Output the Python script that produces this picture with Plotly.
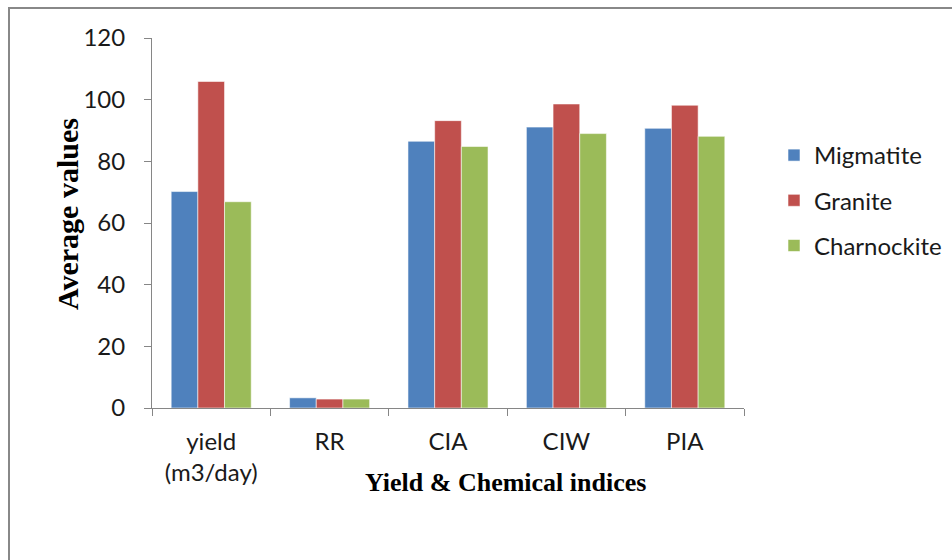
import plotly.graph_objects as go

# Categories and average values per rock type
categories = ["yield<br>(m3/day)", "RR", "CIA", "CIW", "PIA"]
migmatite = [70.2, 3.3, 86.5, 91.1, 90.7]
granite = [105.9, 2.9, 93.2, 98.6, 98.2]
charnockite = [66.9, 2.9, 84.8, 89.0, 88.1]

series = [
    ("Migmatite", migmatite, "#4F81BD"),
    ("Granite", granite, "#C0504D"),
    ("Charnockite", charnockite, "#9BBB59"),
]

W, H = 952, 560
L, R, T, B = 152, 208, 38, 152
pw, ph = W - L - R, H - T - B

def px_x(x):
    return (x - L) / pw

def px_y(y):
    return (H - B - y) / ph

fig = go.Figure()
for i, (name, vals, color) in enumerate(series):
    fig.add_trace(go.Bar(
        x=categories, y=vals, name=name, legendgroup=f"g{i}",
        marker=dict(color=color, line=dict(color="rgba(255,255,255,0.55)", width=1)),
    ))

tick_font = dict(family="Lato, sans-serif", size=24, color="#1a1a1a")
axis_col = "#868686"
serif = "Liberation Serif, Times New Roman, serif"

fig.update_layout(
    width=W, height=H,
    margin=dict(l=L, r=R, t=T, b=B, pad=0, autoexpand=False),
    paper_bgcolor="white", plot_bgcolor="white",
    barmode="group", bargap=0.324, bargroupgap=0,
    showlegend=True,
    legend=dict(
        xref="container", yref="container",
        x=774 / W, y=1 - 133 / H, xanchor="left", yanchor="top",
        font=tick_font, tracegroupgap=11, traceorder="grouped",
        bgcolor="rgba(0,0,0,0)",
    ),
    xaxis=dict(
        type="category", showline=True, linecolor=axis_col, linewidth=1,
        ticks="outside", ticklen=7, tickcolor=axis_col, tickson="boundaries",
        tickfont=tick_font, ticklabelstandoff=12, showgrid=False, zeroline=False,
    ),
    yaxis=dict(
        range=[0, 120], tickvals=[0, 20, 40, 60, 80, 100, 120],
        showline=True, linecolor=axis_col, linewidth=1,
        ticks="outside", ticklen=7, tickcolor=axis_col,
        tickfont=tick_font, ticklabelstandoff=14, showgrid=False, zeroline=False,
    ),
    annotations=[
        dict(text="<b>Average values</b>", textangle=-90, xref="paper", yref="paper",
             x=px_x(67), y=px_y(214), xanchor="center", yanchor="middle", showarrow=False,
             font=dict(family=serif, size=30, color="black")),
        dict(text="<b>Yield &amp; Chemical indices</b>", xref="paper", yref="paper",
             x=px_x(505), y=px_y(482), xanchor="center", yanchor="middle", showarrow=False,
             font=dict(family=serif, size=26, color="black")),
    ],
    shapes=[
        dict(type="rect", xref="paper", yref="paper",
             x0=px_x(9), x1=px_x(1200), y0=px_y(800), y1=px_y(8),
             line=dict(color="#888888", width=2), fillcolor="rgba(0,0,0,0)", layer="below"),
    ],
)

fig.write_html("out.html")
